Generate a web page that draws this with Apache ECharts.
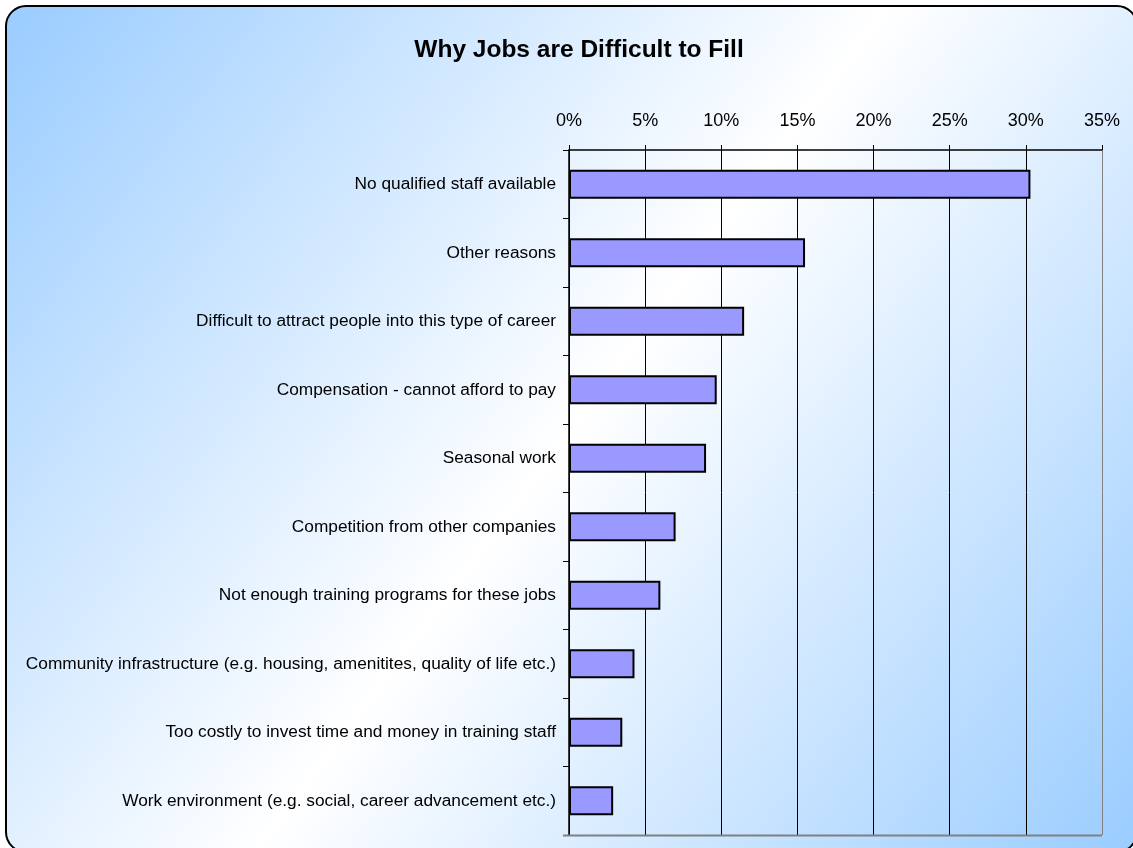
<!DOCTYPE html>
<html>
<head>
<meta charset="utf-8">
<title>Why Jobs are Difficult to Fill</title>
<script src="https://cdn.jsdelivr.net/npm/echarts@6/dist/echarts.min.js"></script>
<style>
  html, body { margin: 0; padding: 0; background: #ffffff; }
  #chart { width: 1133px; height: 848px; }
</style>
</head>
<body>
<div id="chart"></div>
<script>
// Reasons given for hard-to-fill positions, top to bottom
const categories = [
  'No qualified staff available',
  'Other reasons',
  'Difficult to attract people into this type of career',
  'Compensation - cannot afford to pay',
  'Seasonal work',
  'Competition from other companies',
  'Not enough training programs for these jobs',
  'Community infrastructure (e.g. housing, amenitites, quality of life etc.)',
  'Too costly to invest time and money in training staff',
  'Work environment (e.g. social, career advancement etc.)'
];

// Share of responses, in percent
const shares = [30.3, 15.5, 11.5, 9.7, 9.0, 7.0, 6.0, 4.3, 3.5, 2.9];

// Percentage axis
const axisMin = 0;
const axisMax = 35;
const axisStep = 5;

const FONT = '"Liberation Sans", Arial, sans-serif';

const chart = echarts.init(document.getElementById('chart'), null, { renderer: 'canvas' });

// grid lines: dark inside the plot, grey where the last one meets the plot frame
const gridLineColors = [];
for (let v = axisMin; v <= axisMax; v += axisStep) {
  gridLineColors.push(v === axisMax ? '#808080' : '#000000');
}

chart.setOption({
  animation: false,
  graphic: [{
    type: 'rect',
    z: -100,
    silent: true,
    shape: { x: 6, y: 6, width: 1131, height: 846, r: 20 },
    style: {
      fill: new echarts.graphic.LinearGradient(0, 0, 1, 1, [
        { offset: 0, color: '#99ccff' },
        { offset: 0.5, color: '#ffffff' },
        { offset: 1, color: '#99ccff' }
      ]),
      stroke: '#000000',
      lineWidth: 2
    }
  }, {
    // bottom frame line of the plot area
    type: 'line',
    z: 1,
    silent: true,
    shape: { x1: 563, y1: 835.5, x2: 1102, y2: 835.5 },
    style: { stroke: '#808080', lineWidth: 2 }
  }],
  title: {
    text: 'Why Jobs are Difficult to Fill',
    left: 574,
    top: 33,
    textAlign: 'center',
    textStyle: {
      fontFamily: FONT,
      fontSize: 24.5,
      fontWeight: 'bold',
      color: '#000000'
    }
  },
  grid: {
    left: 569,
    right: 31,
    top: 150,
    bottom: 13,
    containLabel: false
  },
  xAxis: {
    type: 'value',
    position: 'top',
    min: axisMin,
    max: axisMax,
    interval: axisStep,
    axisLine: { show: true, lineStyle: { color: '#000000', width: 1.5 } },
    axisTick: { show: true, length: 5, lineStyle: { color: '#000000', width: 1 } },
    axisLabel: {
      formatter: '{value}%',
      fontFamily: FONT,
      fontSize: 18,
      color: '#000000',
      margin: 20
    },
    splitLine: { show: true, lineStyle: { color: gridLineColors, width: 1 } }
  },
  yAxis: {
    type: 'category',
    inverse: true,
    data: categories,
    axisLine: { show: true, lineStyle: { color: '#000000', width: 1.5 } },
    axisTick: { show: true, length: 6, lineStyle: { color: '#000000', width: 1 } },
    axisLabel: {
      fontFamily: FONT,
      fontSize: 17.3,
      color: '#000000',
      margin: 13
    },
    splitLine: { show: false }
  },
  series: [{
    type: 'bar',
    data: shares,
    barWidth: '42%',
    itemStyle: {
      color: '#9999ff',
      borderColor: '#000000',
      borderWidth: 2
    },
    label: { show: false }
  }]
});
</script>
</body>
</html>
